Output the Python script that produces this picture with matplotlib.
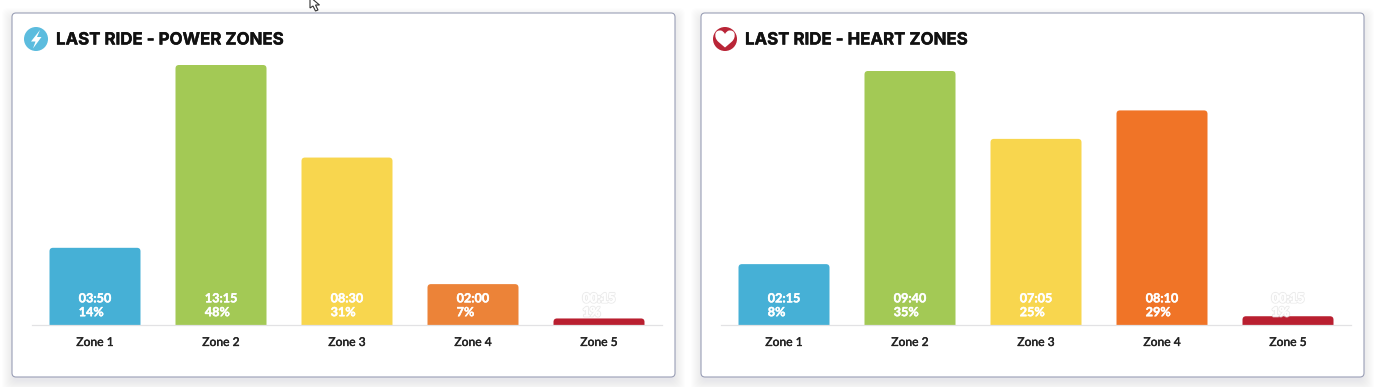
import matplotlib
matplotlib.use("Agg")
import matplotlib.pyplot as plt
from matplotlib.patches import FancyBboxPatch, PathPatch, Circle, Polygon
from matplotlib.path import Path
import matplotlib.patheffects as pe

W, H = 1380, 387
zones = ["Zone 1", "Zone 2", "Zone 3", "Zone 4", "Zone 5"]

power_title = "LAST RIDE - POWER ZONES"
power_seconds = [236, 795, 512, 125, 20]
power_times = ["03:50", "13:15", "08:30", "02:00", "00:15"]
power_pcts = ["14%", "48%", "31%", "7%", "1%"]
power_colors = ["#46b0d6", "#a3c955", "#f8d64e", "#ec8338", "#b91f30"]

heart_title = "LAST RIDE - HEART ZONES"
heart_seconds = [139, 580, 425, 490, 20]
heart_times = ["02:15", "09:40", "07:05", "08:10", "00:15"]
heart_pcts = ["8%", "35%", "25%", "29%", "1%"]
heart_colors = ["#46b0d6", "#a3c955", "#f8d64e", "#f07427", "#b91f30"]

LABEL_FONT = ["Lato", "DejaVu Sans"]
TITLE_FONT = ["Inter", "DejaVu Sans"]

fig = plt.figure(figsize=(W / 100, H / 100), dpi=100, facecolor="white")
bg = fig.add_axes([0, 0, 1, 1])
bg.set_xlim(0, W)
bg.set_ylim(H, 0)
bg.axis("off")


def card(x0, y0, x1, y1):
    for i in range(12, 0, -1):
        bg.add_patch(FancyBboxPatch(
            (x0 - i + 2, y0 - i + 7), x1 - x0 + 2 * i - 4, y1 - y0 + 2 * i - 4,
            boxstyle="round,pad=0,rounding_size=6", fc="#5a6070", ec="none",
            alpha=0.007))
    bg.add_patch(FancyBboxPatch(
        (x0, y0), x1 - x0, y1 - y0, boxstyle="round,pad=0,rounding_size=4",
        fc="white", ec="#9a9fb6", lw=0.8))


def rounded_bar(ax, x, h, width, rx, ry, color):
    l, r = x - width / 2, x + width / 2
    ry = min(ry, h)
    verts = [(l, 0), (l, h - ry), (l, h), (l + rx, h), (r - rx, h), (r, h),
             (r, h - ry), (r, 0), (l, 0)]
    codes = [Path.MOVETO, Path.LINETO, Path.CURVE3, Path.CURVE3, Path.LINETO,
             Path.CURVE3, Path.CURVE3, Path.LINETO, Path.CLOSEPOLY]
    ax.add_patch(PathPatch(Path(verts, codes), fc=color, ec="none", zorder=2,
                           clip_on=False))


def chart(x0, x1, top, seconds, times, pcts, colors):
    base = 325
    ax = fig.add_axes([x0 / W, 1 - base / H, (x1 - x0) / W, (base - top) / H])
    ax.patch.set_alpha(0)
    ax.set_xlim(-0.5, 4.5)
    ax.set_ylim(0, max(seconds))
    for s in ["top", "left", "right"]:
        ax.spines[s].set_visible(False)
    ax.spines["bottom"].set_color("#e2e2e4")
    ax.spines["bottom"].set_linewidth(0.9)
    ax.set_yticks([])
    ax.set_xticks(range(len(zones)))
    labels = ax.set_xticklabels(zones, family=LABEL_FONT, fontsize=8.7,
                                fontweight="normal", color="#222222")
    for lab in labels:
        lab.set_path_effects([pe.withStroke(linewidth=0.3, foreground="#222222")])
    ax.tick_params(axis="x", length=0, pad=8.6)
    xscale = (x1 - x0) / 5
    yscale = (base - top) / max(seconds)
    for i, s in enumerate(seconds):
        rounded_bar(ax, i, s, 91 / xscale, 3.5 / xscale, 3.5 / yscale, colors[i])
        t = ax.annotate(f"{times[i]}\n{pcts[i]}", xy=(i, 0),
                        xytext=(0, 14.2), textcoords="offset points",
                        ha="center", va="center", multialignment="left",
                        color="white", fontsize=9.1, fontweight="bold",
                        family=LABEL_FONT, linespacing=1.18, zorder=3)
        if i == 4:
            t.set_path_effects([pe.withStroke(linewidth=1.8, foreground="#e4e4e4", alpha=0.7),
                                pe.withStroke(linewidth=0.3, foreground="white")])
        else:
            t.set_path_effects([pe.withStroke(linewidth=0.3, foreground="white")])
    return ax


# left card
card(12, 13, 675, 377)
chart(32, 662, 65, power_seconds, power_times, power_pcts, power_colors)
bg.add_patch(Circle((36, 39), 12, fc="#5cbcde", ec="none"))
bg.add_patch(Polygon([(40, 30), (31, 41.5), (35.5, 41.5), (33, 48.5),
                      (41.5, 37), (37, 37)], closed=True, fc="white", ec="none"))
t1 = bg.text(56, 40, power_title, family=TITLE_FONT, fontsize=12.15, fontweight="bold",
             color="#111111", va="center", ha="left")
t1.set_path_effects([pe.withStroke(linewidth=0.3, foreground="#111111")])

# right card
card(701, 13, 1364, 377)
chart(721, 1351, 71, heart_seconds, heart_times, heart_pcts, heart_colors)
bg.add_patch(Circle((725, 39), 12, fc="#b92537", ec="none"))
hv = [(725, 47.5), (722, 45), (718, 41.5), (714.5, 38), (715.5, 33.5), (716.5, 30),
      (721, 30.5), (723.5, 31), (725, 34), (726.5, 31), (729, 30.5), (733.5, 30),
      (734.5, 33.5), (735.5, 38), (732, 41.5), (728, 45), (725, 47.5), (725, 47.5)]
hc = [Path.MOVETO] + [Path.CURVE3] * 16 + [Path.CLOSEPOLY]
bg.add_patch(PathPatch(Path(hv, hc), fc="white", ec="none"))
t2 = bg.text(745, 40, heart_title, family=TITLE_FONT, fontsize=12.15, fontweight="bold",
             color="#111111", va="center", ha="left")
t2.set_path_effects([pe.withStroke(linewidth=0.3, foreground="#111111")])

# mouse pointer visible at the top of the screenshot
bg.add_patch(Polygon([(310, -3), (310, 8), (313, 6), (315.5, 11), (318, 10),
                      (315.5, 5), (319.5, 5)], closed=True, fc="white",
                     ec="#333333", lw=0.8))

fig.savefig("out.png", dpi=100)
